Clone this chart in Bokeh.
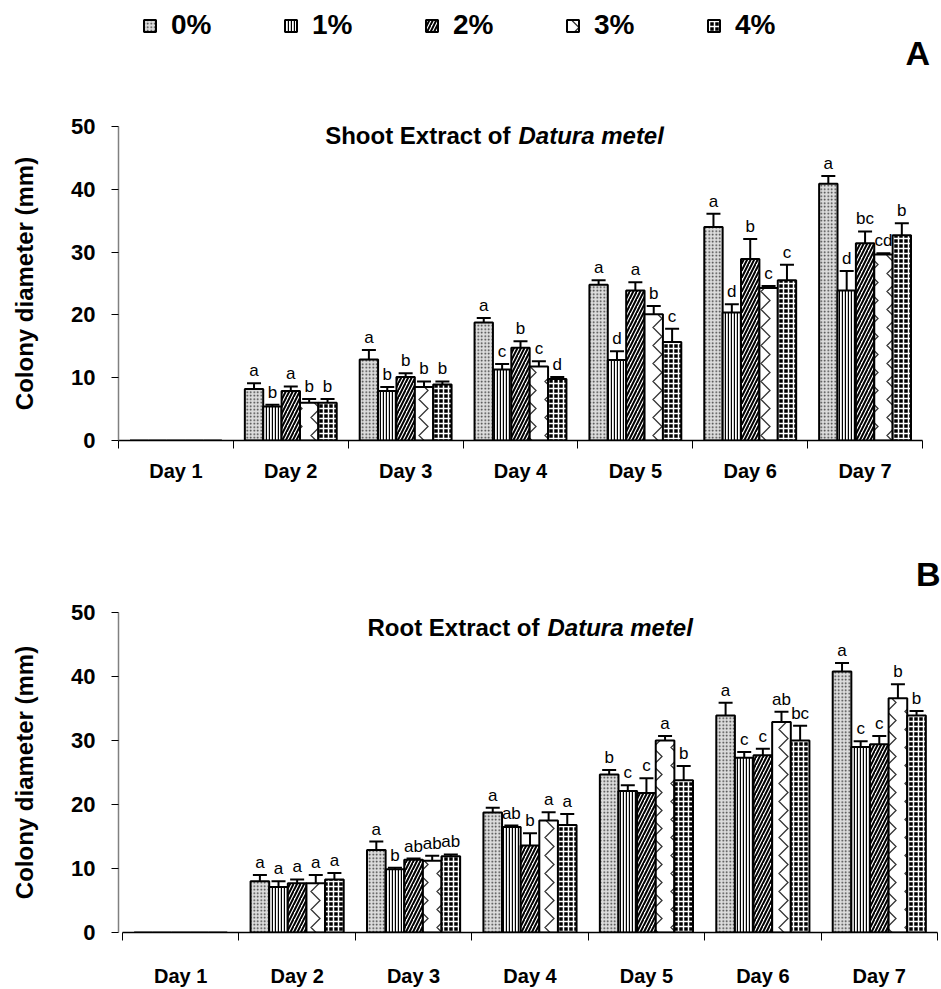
import numpy as np
from bokeh.plotting import figure
from bokeh.models import (ColumnDataSource, Whisker, TeeHead, Legend, LegendItem, Label,
                          LinearAxis, FixedTicker, Range1d)
from bokeh.layouts import column
from bokeh.embed import file_html
from bokeh.resources import INLINE
from bokeh.core.properties import value

days = ["Day 1", "Day 2", "Day 3", "Day 4", "Day 5", "Day 6", "Day 7"]
concs = ["0%", "1%", "2%", "3%", "4%"]
y_ticks = [0, 10, 20, 30, 40, 50]

# Shoot extract (panel A)
shoot_0 = [0, 8.2, 12.9, 18.8, 24.8, 34.0, 40.9]
shoot_1 = [0, 5.4, 7.9, 11.3, 12.8, 20.4, 23.9]
shoot_2 = [0, 7.9, 10.1, 14.75, 23.9, 28.9, 31.4]
shoot_3 = [0, 6.0, 8.5, 11.8, 20.1, 24.3, 29.6]
shoot_4 = [0, 6.0, 8.9, 9.8, 15.7, 25.5, 32.7]
shoot_0_err = [0, 0.9, 1.5, 0.7, 0.7, 2.1, 1.2]
shoot_1_err = [0, 0.3, 0.6, 0.9, 1.4, 1.3, 3.1]
shoot_2_err = [0, 0.7, 0.6, 1.05, 1.3, 3.2, 1.9]
shoot_3_err = [0, 0.6, 0.9, 0.8, 1.3, 0.3, 0.2]
shoot_4_err = [0, 0.6, 0.5, 0.3, 2.1, 2.5, 1.9]
shoot_0_sig = ["", "a", "a", "a", "a", "a", "a"]
shoot_1_sig = ["", "b", "b", "c", "d", "d", "d"]
shoot_2_sig = ["", "a", "b", "b", "a", "b", "bc"]
shoot_3_sig = ["", "b", "b", "c", "b", "c", "cd"]
shoot_4_sig = ["", "b", "b", "d", "c", "c", "b"]

# Root extract (panel B)
root_0 = [0, 8.0, 12.9, 18.75, 24.7, 33.9, 40.8]
root_1 = [0, 7.1, 9.9, 16.5, 22.1, 27.3, 29.0]
root_2 = [0, 7.7, 11.35, 13.6, 21.8, 27.7, 29.4]
root_3 = [0, 7.7, 11.2, 17.5, 30.0, 32.9, 36.6]
root_4 = [0, 8.3, 11.9, 16.8, 23.8, 30.0, 33.9]
root_0_err = [0, 1.0, 1.3, 0.75, 0.7, 2.0, 1.3]
root_1_err = [0, 0.9, 0.2, 0.2, 0.9, 0.9, 0.9]
root_2_err = [0, 0.6, 0.2, 1.9, 2.3, 1.0, 1.3]
root_3_err = [0, 1.3, 0.8, 1.3, 0.7, 1.6, 2.2]
root_4_err = [0, 1.0, 0.3, 1.7, 2.2, 2.3, 0.7]
root_0_sig = ["", "a", "a", "a", "b", "a", "a"]
root_1_sig = ["", "a", "b", "ab", "c", "c", "c"]
root_2_sig = ["", "a", "ab", "b", "c", "c", "c"]
root_3_sig = ["", "a", "ab", "a", "a", "ab", "b"]
root_4_sig = ["", "a", "ab", "a", "b", "bc", "b"]

FONT = "Liberation Sans"
BAR_W = 0.16
OFFSETS = [-0.32, -0.16, 0.0, 0.16, 0.32]
STYLES = [
    dict(fill_color="#dcdcdc", hatch_pattern=".", hatch_color="#333333", hatch_scale=3.5, hatch_weight=1),
    dict(fill_color="white", hatch_pattern="|", hatch_color="black", hatch_scale=3, hatch_weight=1.4),
    dict(fill_color="white", hatch_pattern="/", hatch_color="black", hatch_scale=7, hatch_weight=2),
    dict(fill_color="white", hatch_pattern=">", hatch_color="#333333", hatch_scale=18, hatch_weight=1.3),
    dict(fill_color="black", hatch_pattern="+", hatch_color="white", hatch_scale=5, hatch_weight=1.5),
]

W = 941
LEG_H = 75
FRAME_L = 118  # shared frame left edge (column aligns frames)


def make_panel(series, errs, sigs, height, axis_px, title_plain, title_ital,
               title_pos, tick_standoff, label_standoff, corner=None):
    # axis_px: (x of Day-1 start, x of Day-7 end, y of 0, y of 50) in figure pixels
    ax0, ax1, y0_px, y50_px = axis_px
    px_per_x = (ax1 - ax0) / len(days)
    x_start = -(ax0 - FRAME_L) / px_per_x
    x_end = (W - ax0) / px_per_x
    p = figure(width=W, height=height, x_range=Range1d(x_start, x_end), y_range=Range1d(0, 50),
               output_backend="svg", toolbar_location=None,
               min_border_left=FRAME_L, min_border_right=0,
               min_border_top=y50_px, min_border_bottom=height - y0_px,
               x_axis_location=None, y_axis_location=None)
    p.outline_line_color = None
    p.xgrid.visible = False
    p.ygrid.visible = False
    if corner is not None:
        p.title.text = corner
        p.title.align = "right"
        p.title.text_font = FONT
        p.title.text_font_style = "bold"
        p.title.text_font_size = "34px"
        p.title.text_color = "black"
        p.title.standoff = 40
        p.title.offset = 1

    yax = LinearAxis(ticker=FixedTicker(ticks=y_ticks))
    yax.axis_line_color = "#808080"
    yax.axis_line_width = 1.5
    yax.major_tick_out = 7
    yax.major_tick_in = 0
    yax.major_tick_line_color = "black"
    yax.minor_tick_line_color = None
    yax.major_label_text_font = FONT
    yax.major_label_text_font_style = "bold"
    yax.major_label_text_font_size = "22px"
    yax.major_label_text_color = "black"
    yax.major_label_standoff = tick_standoff
    yax.axis_label = "Colony diameter (mm)"
    yax.axis_label_text_font = FONT
    yax.axis_label_text_font_style = "bold"
    yax.axis_label_text_font_size = "24px"
    yax.axis_label_text_color = "black"
    yax.axis_label_standoff = 30
    p.add_layout(yax, "left")

    centers = [i + 0.5 for i in range(len(days))]
    bounds_ticks = list(range(len(days) + 1))
    xax = LinearAxis(ticker=FixedTicker(ticks=centers, minor_ticks=bounds_ticks),
                     major_label_overrides={c: d for c, d in zip(centers, days)},
                     bounds=(0, len(days)))
    xax.axis_line_color = "black"
    xax.axis_line_width = 1.5
    xax.major_tick_line_color = None
    xax.major_tick_out = 0
    xax.major_tick_in = 0
    xax.minor_tick_line_color = "black"
    xax.minor_tick_line_width = 1
    xax.minor_tick_out = 8
    xax.minor_tick_in = 0
    xax.major_label_text_font = FONT
    xax.major_label_text_font_style = "bold"
    xax.major_label_text_font_size = "20px"
    xax.major_label_text_color = "black"
    xax.major_label_standoff = label_standoff
    p.add_layout(xax, "below")

    for k in range(len(concs)):
        vals = np.array(series[k], dtype=float)
        err = np.array(errs[k], dtype=float)
        xs = np.arange(len(days)) + 0.5 + OFFSETS[k]
        src = ColumnDataSource(dict(x=xs, top=vals))
        p.vbar(x="x", top="top", bottom=0, width=BAR_W, source=src,
               line_color="black", line_width=2, **STYLES[k])
        mask = err > 0
        wsrc = ColumnDataSource(dict(x=xs[mask], upper=(vals + err)[mask], lower=(vals - err)[mask],
                                     sig=[s for s, m in zip(sigs[k], mask) if m]))
        w = Whisker(base="x", upper="upper", lower="lower", source=wsrc,
                    line_color="black", line_width=2,
                    upper_head=TeeHead(size=14, line_width=2, line_color="black"),
                    lower_head=TeeHead(size=14, line_width=2, line_color="black"))
        p.add_layout(w)
        p.text(x="x", y="upper", text="sig", source=wsrc, text_align="center",
               text_baseline="bottom", y_offset=-3, text_font=value(FONT),
               text_font_size="17px", text_color="black")

    px_per_y = (y0_px - y50_px) / 50.0
    tx_px, ty_px = title_pos
    tx = (tx_px - ax0) / px_per_x
    ty = (y0_px - ty_px) / px_per_y
    p.add_layout(Label(x=tx, y=ty, text=title_plain, text_align="right", text_baseline="middle",
                       x_offset=-4, text_font=FONT, text_font_style="bold",
                       text_font_size="24px", text_color="black"))
    p.add_layout(Label(x=tx, y=ty, text=title_ital, text_align="left", text_baseline="middle",
                       x_offset=4, text_font=FONT, text_font_style="bold italic",
                       text_font_size="24px", text_color="black"))
    return p


# ---- legend strip with panel letter A (data units = pixels from frame left) ----
pL = figure(width=W, height=LEG_H, x_range=Range1d(0, W - FRAME_L), y_range=Range1d(0, LEG_H),
            output_backend="svg", toolbar_location=None,
            min_border_left=FRAME_L, min_border_right=0, min_border_top=0, min_border_bottom=0,
            x_axis_location=None, y_axis_location=None)
pL.outline_line_color = None
pL.xgrid.visible = False
pL.ygrid.visible = False
leg_items = []
for k in range(len(concs)):
    # legend-only swatch renderer: NaN data, so nothing is drawn in the plot area
    r = pL.vbar(x=[np.nan], top=[np.nan], bottom=0, width=1,
                line_color="black", line_width=2, **STYLES[k])
    leg_items.append(LegendItem(label=concs[k], renderers=[r]))
leg = Legend(items=leg_items, orientation="horizontal", location=(146 - FRAME_L - 4, LEG_H - 41),
             glyph_width=15, glyph_height=15, label_standoff=14,
             label_width=60, spacing=52, padding=0, margin=0,
             border_line_color=None, background_fill_alpha=0,
             label_text_font=FONT, label_text_font_style="bold",
             label_text_font_size="28px", label_text_color="black")
pL.add_layout(leg, "center")
pL.add_layout(Label(x=905 - FRAME_L, y=LEG_H - 52, text="A", text_align="left",
                    text_baseline="middle", text_font=FONT, text_font_style="bold",
                    text_font_size="34px", text_color="black"))

pA = make_panel([shoot_0, shoot_1, shoot_2, shoot_3, shoot_4],
                [shoot_0_err, shoot_1_err, shoot_2_err, shoot_3_err, shoot_4_err],
                [shoot_0_sig, shoot_1_sig, shoot_2_sig, shoot_3_sig, shoot_4_sig],
                height=513 - LEG_H, axis_px=(118, 922, 440 - LEG_H, 126 - LEG_H),
                title_plain="Shoot Extract of", title_ital="Datura metel",
                title_pos=(514, 135 - LEG_H), tick_standoff=16, label_standoff=11)

pB = make_panel([root_0, root_1, root_2, root_3, root_4],
                [root_0_err, root_1_err, root_2_err, root_3_err, root_4_err],
                [root_0_sig, root_1_sig, root_2_sig, root_3_sig, root_4_sig],
                height=476, axis_px=(122, 937, 420, 99),
                title_plain="Root Extract of", title_ital="Datura metel",
                title_pos=(543, 114), tick_standoff=16, label_standoff=24, corner="B")

layout = column(pL, pA, pB, spacing=0)
open("out.html", "w").write(file_html(layout, INLINE))
